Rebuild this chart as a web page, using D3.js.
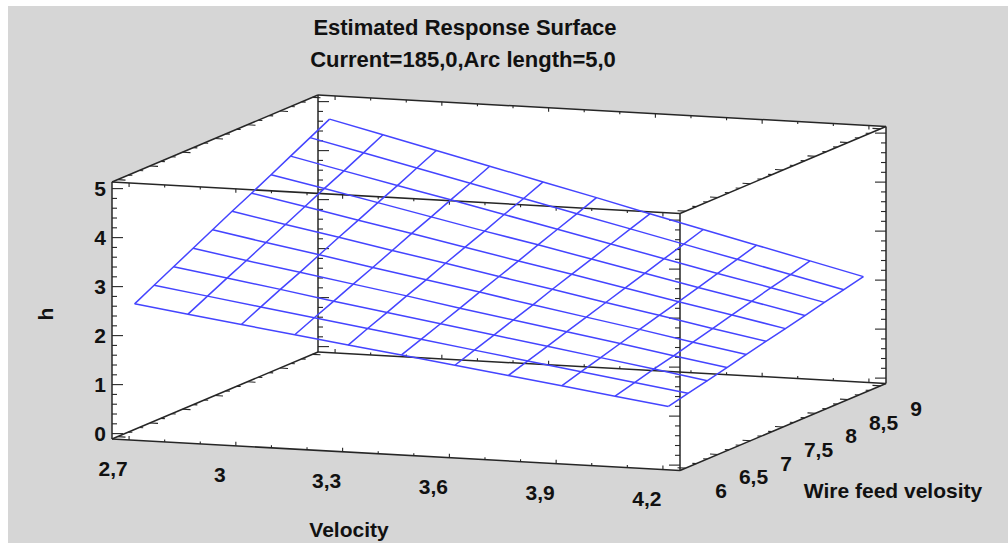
<!DOCTYPE html>
<html>
<head>
<meta charset="utf-8">
<script src="https://cdn.jsdelivr.net/npm/d3@7"></script>
<style>
  body { margin: 0; background: #fff; }
  text { font-family: "Liberation Sans", Arial, sans-serif; font-weight: bold; fill: #111; }
</style>
</head>
<body>
<script>
const width = 1008;
const height = 543;

// axis ticks and labels
const velocityTicks = [2.7, 3.0, 3.3, 3.6, 3.9, 4.2];
const velocityLabels = ["2,7", "3", "3,3", "3,6", "3,9", "4,2"];
const wireTicks = [6, 6.5, 7, 7.5, 8, 8.5, 9];
const wireLabels = ["6", "6,5", "7", "7,5", "8", "8,5", "9"];
const hTicks = [0, 1, 2, 3, 4, 5];
const hLabels = ["0", "1", "2", "3", "4", "5"];

// surface grid (velocity rows x wire columns), h
const velocityGrid = [2.7, 2.85, 3.0, 3.15, 3.3, 3.45, 3.6, 3.75, 3.9, 4.05, 4.2];
const wireGrid = [6.0, 6.3, 6.6, 6.9, 7.2, 7.5, 7.8, 8.1, 8.4, 8.7, 9.0];
const hGrid = [
  [2.62, 2.83, 3.04, 3.25, 3.46, 3.67, 3.87, 4.08, 4.29, 4.50, 4.71],
  [2.47, 2.67, 2.87, 3.06, 3.26, 3.46, 3.66, 3.86, 4.05, 4.25, 4.45],
  [2.32, 2.51, 2.70, 2.88, 3.07, 3.26, 3.44, 3.63, 3.81, 4.00, 4.19],
  [2.17, 2.35, 2.52, 2.70, 2.87, 3.05, 3.23, 3.40, 3.58, 3.75, 3.93],
  [2.02, 2.19, 2.35, 2.52, 2.68, 2.85, 3.01, 3.17, 3.34, 3.50, 3.67],
  [1.88, 2.03, 2.18, 2.33, 2.49, 2.64, 2.79, 2.95, 3.10, 3.25, 3.41],
  [1.73, 1.87, 2.01, 2.15, 2.29, 2.44, 2.58, 2.72, 2.86, 3.00, 3.14],
  [1.58, 1.71, 1.84, 1.97, 2.10, 2.23, 2.36, 2.49, 2.62, 2.75, 2.88],
  [1.43, 1.55, 1.67, 1.79, 1.91, 2.03, 2.14, 2.26, 2.38, 2.50, 2.62],
  [1.28, 1.39, 1.50, 1.60, 1.71, 1.82, 1.93, 2.04, 2.15, 2.25, 2.36],
  [1.13, 1.23, 1.32, 1.42, 1.52, 1.62, 1.71, 1.81, 1.91, 2.00, 2.10]
];

// box extents (axes run a little past the data)
const vBox = [2.652, 4.248];
const wBox = [5.915, 9.085];
const hBox = [-0.11, 5.135];

// oblique projection
const origin = { x: 112, y: 439 };
const vVec = { x: 568, y: 31.5 };
const wVec = { x: 206, y: -87 };
const hLen = 257;

const sv = d3.scaleLinear().domain(vBox).range([0, 1]);
const sw = d3.scaleLinear().domain(wBox).range([0, 1]);
const sh = d3.scaleLinear().domain(hBox).range([0, hLen]);

const proj = (v, w, h) => [
  origin.x + sv(v) * vVec.x + sw(w) * wVec.x,
  origin.y + sv(v) * vVec.y + sw(w) * wVec.y - sh(h)
];

const svg = d3.select("body").append("svg")
  .attr("width", width)
  .attr("height", height);

svg.append("rect")
  .attr("x", 8).attr("y", 6)
  .attr("width", width - 8).attr("height", height - 6)
  .attr("fill", "#d6d6d6");

const [vA, vB] = vBox, [wA, wB] = wBox, [hA, hB] = hBox;
const hull = [
  proj(vA, wA, hA), proj(vB, wA, hA), proj(vB, wB, hA),
  proj(vB, wB, hB), proj(vA, wB, hB), proj(vA, wA, hB)
];
svg.append("polygon")
  .attr("points", hull.map(p => p.join(",")).join(" "))
  .attr("fill", "#fff");

const boxG = svg.append("g")
  .attr("stroke", "#262626")
  .attr("fill", "none");

const seg = (a, b, sw_ = 1.5) => boxG.append("line")
  .attr("x1", a[0]).attr("y1", a[1])
  .attr("x2", b[0]).attr("y2", b[1])
  .attr("stroke-width", sw_);

// 12 box edges
[wA, wB].forEach(w => [hA, hB].forEach(h => seg(proj(vA, w, h), proj(vB, w, h))));
[vA, vB].forEach(v => [hA, hB].forEach(h => seg(proj(v, wA, h), proj(v, wB, h))));
[vA, vB].forEach(v => [wA, wB].forEach(w => seg(proj(v, w, hA), proj(v, w, hB))));

// h ticks on the vertical edges
const hMinor = d3.range(0, 26).map(k => k * 0.2);
[vA, vB].forEach(v => [wA, wB].forEach(w => {
  const dir = v === vA ? 1 : -1;
  hMinor.forEach((t, k) => {
    const p = proj(v, w, t);
    const len = k % 5 === 0 ? 11 : 5;
    seg(p, [p[0] + dir * len, p[1]], 1.1);
  });
}));

// wire ticks on the oblique edges
const vn = Math.hypot(vVec.x, vVec.y);
const wMinor = d3.range(0, 19).map(k => 6 + k / 6);
[vA, vB].forEach(v => [hA, hB].forEach(h => {
  const dir = v === vA ? 1 : -1;
  wMinor.forEach((t, k) => {
    const p = proj(v, t, h);
    const len = k % 3 === 0 ? 8 : 4;
    seg(p, [p[0] + dir * len * vVec.x / vn, p[1] + dir * len * vVec.y / vn], 1.1);
  });
}));

// velocity ticks on the horizontal edges
const vMinor = d3.range(0, 16).map(k => 2.7 + k * 0.1);
[wA, wB].forEach(w => [hA, hB].forEach(h => {
  const dir = h === hA ? -1 : 1;
  vMinor.forEach((t, k) => {
    const p = proj(t, w, h);
    const len = k % 3 === 0 ? 4 : 2.5;
    seg(p, [p[0], p[1] + dir * len], 1.1);
  });
}));

// surface mesh
const line = d3.line();
const meshG = svg.append("g")
  .attr("fill", "none")
  .attr("stroke", "#4444ff")
  .attr("stroke-width", 1.5);

velocityGrid.forEach((v, i) => {
  meshG.append("path")
    .attr("d", line(wireGrid.map((w, j) => proj(v, w, hGrid[i][j]))));
});
wireGrid.forEach((w, j) => {
  meshG.append("path")
    .attr("d", line(velocityGrid.map((v, i) => proj(v, w, hGrid[i][j]))));
});

// tick labels
hTicks.forEach((t, i) => {
  const p = proj(vA, wA, t);
  svg.append("text")
    .attr("x", p[0] - 6).attr("y", p[1])
    .attr("text-anchor", "end")
    .attr("dominant-baseline", "central")
    .style("font-size", "21px")
    .text(hLabels[i]);
});

velocityTicks.forEach((t, i) => {
  const p = proj(t, wA, hA);
  svg.append("text")
    .attr("x", p[0] - 16).attr("y", p[1] + 29)
    .attr("text-anchor", "middle")
    .attr("dominant-baseline", "central")
    .style("font-size", "21px")
    .text(velocityLabels[i]);
});

wireTicks.forEach((t, i) => {
  const p = proj(vB, t, hA);
  svg.append("text")
    .attr("x", p[0] + 35.5).attr("y", p[1] + 22.5)
    .attr("text-anchor", "middle")
    .attr("dominant-baseline", "central")
    .style("font-size", "21px")
    .text(wireLabels[i]);
});

// axis titles
svg.append("text")
  .attr("x", 349).attr("y", 537)
  .attr("text-anchor", "middle")
  .style("font-size", "21px")
  .text("Velocity");

svg.append("text")
  .attr("x", 893).attr("y", 498)
  .attr("text-anchor", "middle")
  .style("font-size", "21px")
  .text("Wire feed velosity");

svg.append("text")
  .attr("transform", "translate(53,314) rotate(-90)")
  .attr("text-anchor", "middle")
  .style("font-size", "21px")
  .text("h");

// titles
svg.append("text")
  .attr("x", 465).attr("y", 35)
  .attr("text-anchor", "middle")
  .style("font-size", "22px")
  .text("Estimated Response Surface");

svg.append("text")
  .attr("x", 463).attr("y", 67)
  .attr("text-anchor", "middle")
  .style("font-size", "22px")
  .text("Current=185,0,Arc length=5,0");
</script>
</body>
</html>
